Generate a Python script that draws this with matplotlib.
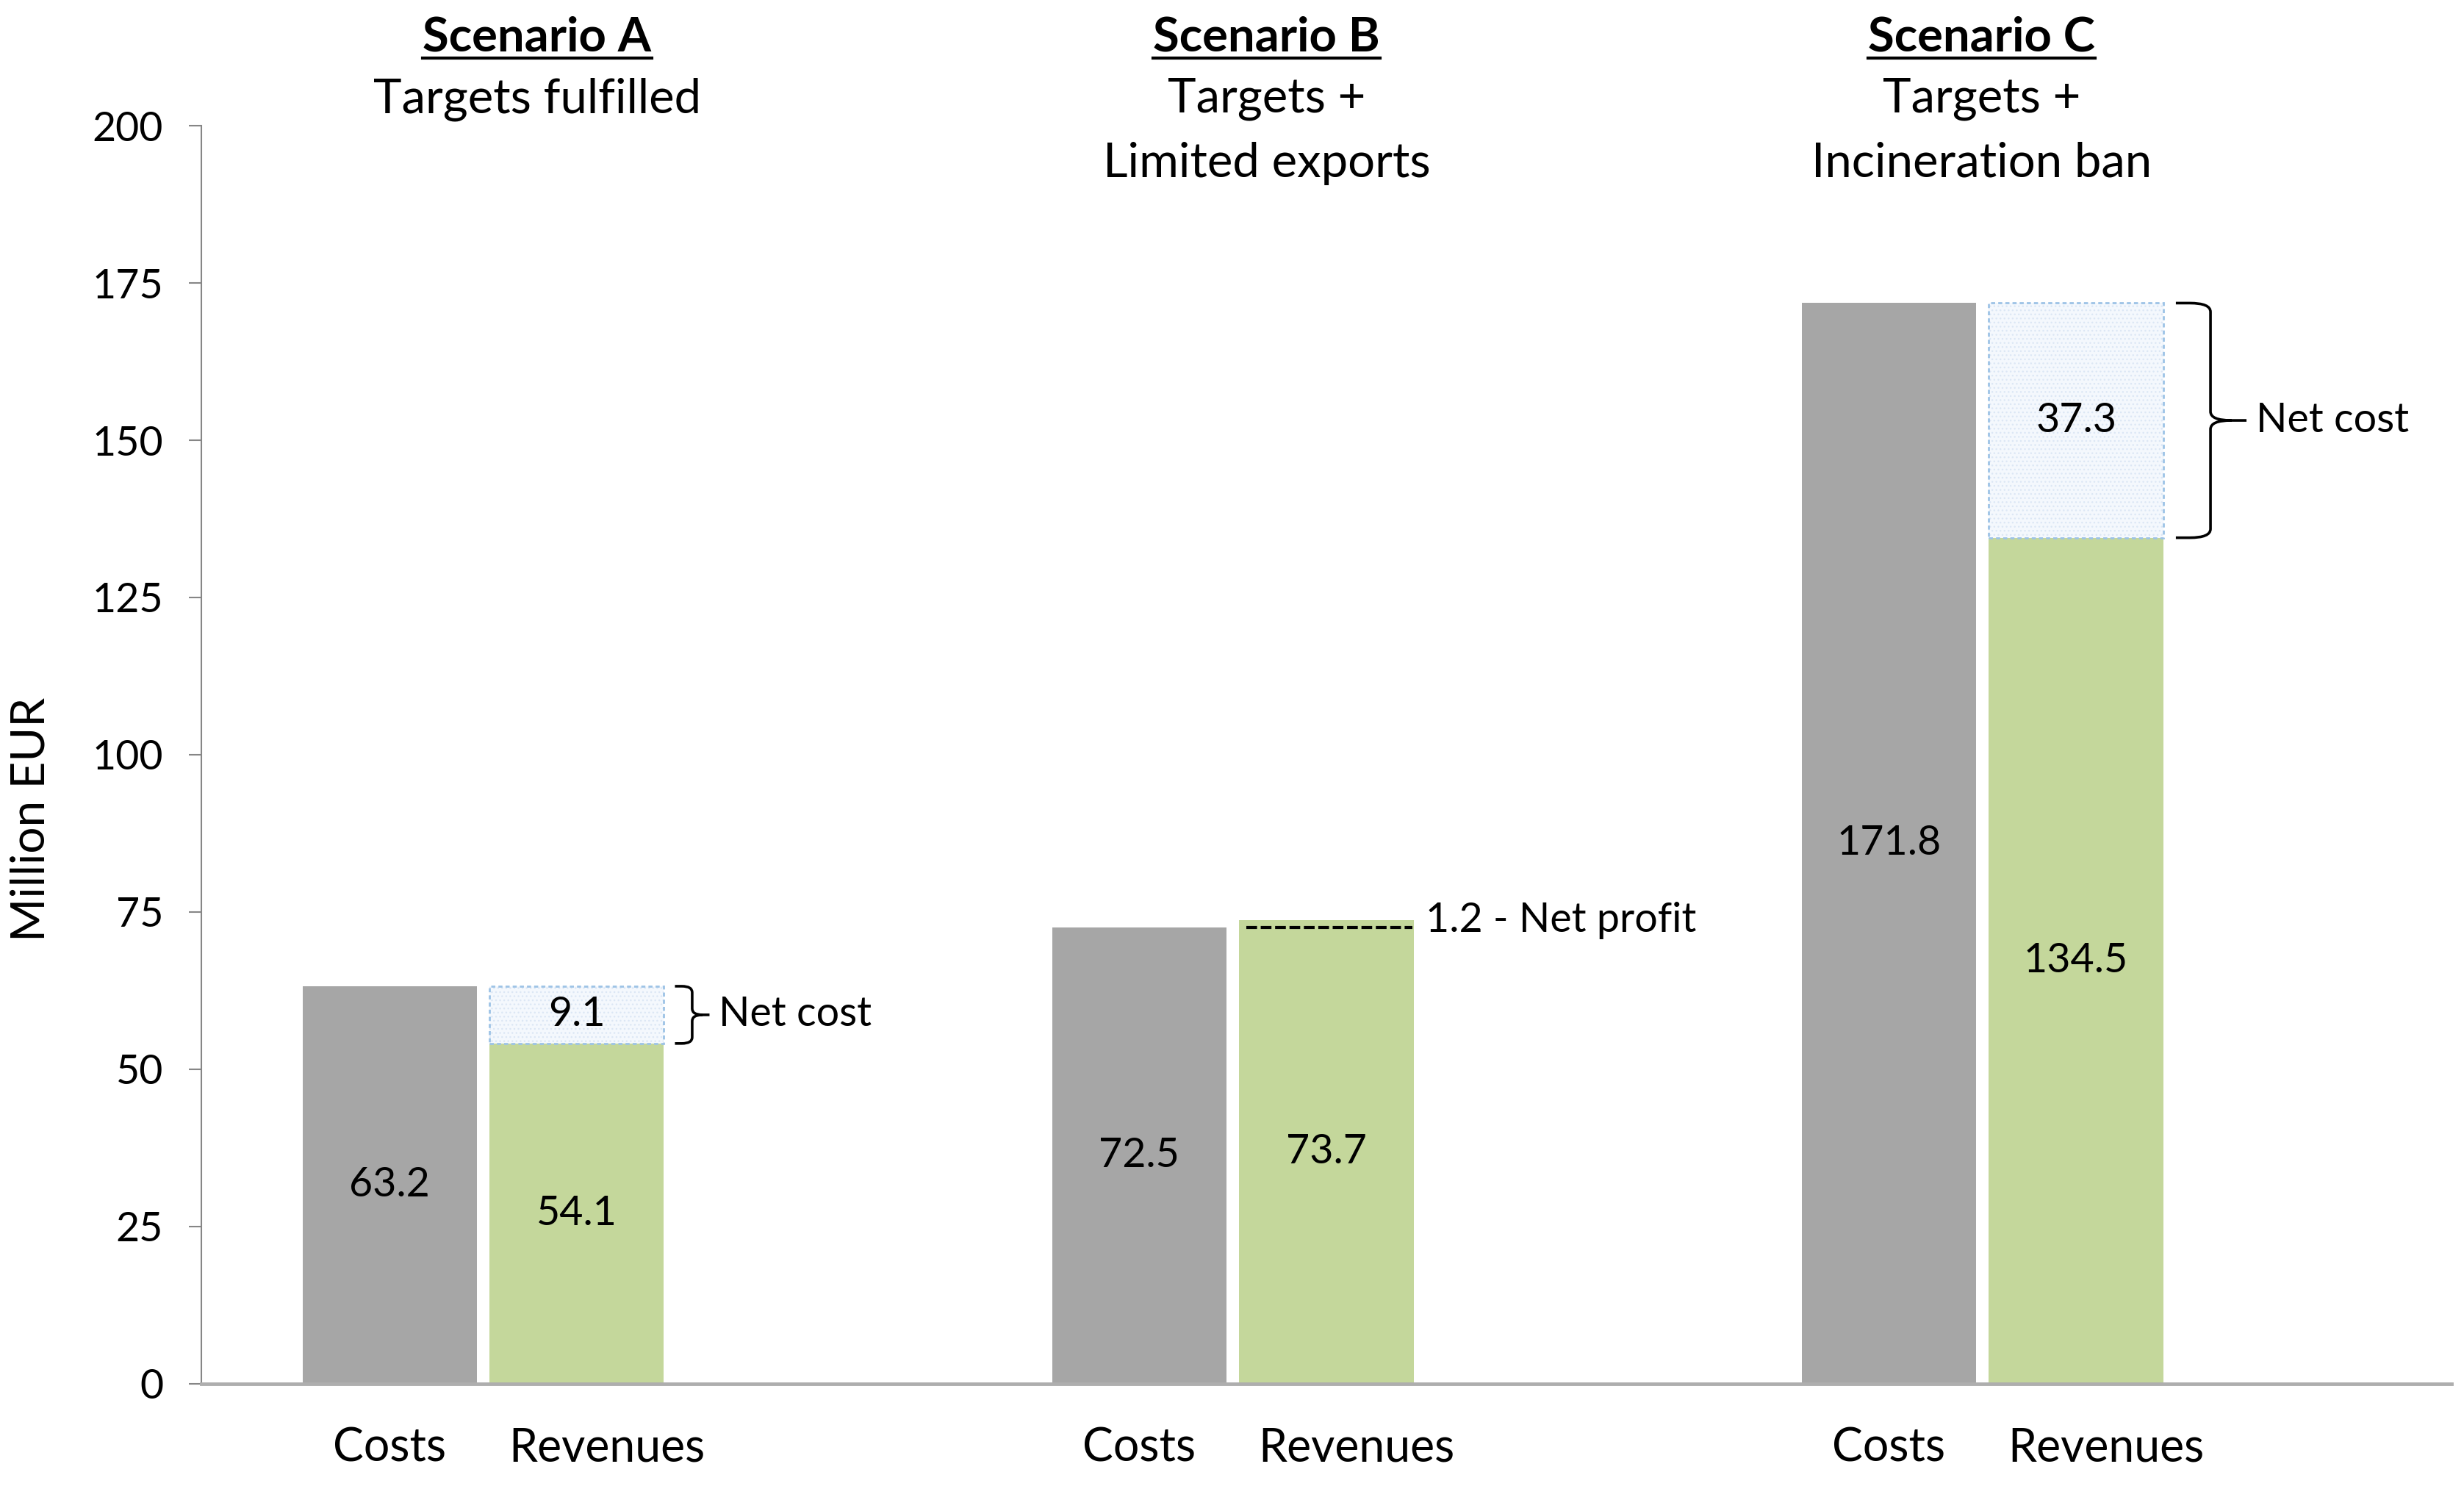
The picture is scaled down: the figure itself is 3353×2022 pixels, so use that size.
import matplotlib
matplotlib.use("Agg")
import matplotlib.pyplot as plt
import matplotlib.transforms as mtransforms
from matplotlib.path import Path
from matplotlib.patches import PathPatch
import numpy as np

# data (million EUR)
scenarios = ["Scenario A", "Scenario B", "Scenario C"]
subtitles = [["Targets fulfilled"], ["Targets +", "Limited exports"], ["Targets +", "Incineration ban"]]
costs = [63.2, 72.5, 171.8]
revenues = [54.1, 73.7, 134.5]
bar_labels = ["Costs", "Revenues"]
y_ticks = [0, 25, 50, 75, 100, 125, 150, 175, 200]

gray = "#A6A6A6"
green = "#C4D79B"
box_edge = "#9DC3E6"
box_face = "#F4F8FD"

plt.rcParams["font.family"] = ["Lato", "DejaVu Sans"]

fig = plt.figure(figsize=(33.53, 20.22), dpi=100)
ax = fig.add_axes([0.0816, 0.0688, 0.9134, 0.8466])

x = np.arange(len(scenarios))
d = 0.2495
w = 0.2327
xc = x - d / 2
xr = x + d / 2

ax.bar(xc, costs, width=w, color=gray, zorder=2)
ax.bar(xr, revenues, width=w, color=green, zorder=2)

net = [c - r for c, r in zip(costs, revenues)]
for i in range(len(scenarios)):
    ax.text(xc[i], costs[i] / 2, f"{costs[i]:.1f}", ha="center", va="center", fontsize=40, zorder=5)
    ax.text(xr[i], revenues[i] / 2, f"{revenues[i]:.1f}", ha="center", va="center", fontsize=40, zorder=5)
    right = xr[i] + w / 2
    if net[i] > 0:
        # net cost box on top of the revenue bar
        ax.bar(xr[i], net[i], bottom=revenues[i], width=w, color=box_face,
               edgecolor="#DCE7F5", hatch="...", linewidth=0, zorder=2)
        ax.bar(xr[i], net[i], bottom=revenues[i], width=w, facecolor="none",
               edgecolor=box_edge, linestyle=(0, (2, 1.5)), linewidth=2, zorder=3)
        ax.text(xr[i], revenues[i] + net[i] / 2, f"{net[i]:.1f}", ha="center", va="center",
                fontsize=40, zorder=5)
        # curly brace
        ytop, ybot = costs[i], revenues[i]
        ym = (ytop + ybot) / 2
        if net[i] > 20:
            x0, xv, xt, tx = right + 0.0168, right + 0.063, right + 0.111, right + 0.124
            ry = 1.4
        else:
            x0, xv, xt, tx = right + 0.0147, right + 0.0377, right + 0.0608, right + 0.0734
            ry = 1.0
        rx = (xv - x0) * 0.6
        verts = [(x0, ytop), (xv - rx, ytop), (xv, ytop), (xv, ytop - ry), (xv, ym + ry),
                 (xv, ym), (xv + rx, ym), (xt, ym),
                 (xv + rx, ym), (xv, ym), (xv, ym - ry), (xv, ybot + ry),
                 (xv, ybot), (xv - rx, ybot), (x0, ybot)]
        codes = [Path.MOVETO, Path.LINETO, Path.CURVE3, Path.CURVE3, Path.LINETO,
                 Path.CURVE3, Path.CURVE3, Path.LINETO,
                 Path.MOVETO, Path.CURVE3, Path.CURVE3, Path.LINETO,
                 Path.CURVE3, Path.CURVE3, Path.LINETO]
        ax.add_patch(PathPatch(Path(verts, codes), facecolor="none", edgecolor="black",
                               linewidth=2.6, clip_on=False, zorder=4))
        ax.text(tx, ym, "Net cost", ha="left", va="center", fontsize=40, clip_on=False)
    else:
        # net profit: dashed line at cost level
        ax.plot([xr[i] - w / 2 + 0.01, right - 0.002], [costs[i], costs[i]], color="black",
                linestyle=(0, (3.5, 1.2)), linewidth=3, zorder=4)
        ax.text(right + 0.016, revenues[i], f"{-net[i]:.1f} - Net profit", ha="left",
                va="center", fontsize=40, clip_on=False)

ax.set_xlim(-0.3763, 2.6258)
ax.set_ylim(0, 200)
ax.set_yticks(y_ticks)
ax.tick_params(axis="y", labelsize=40, length=12, width=1.5, color="#868686", pad=25)

tick_pos = []
tick_lab = []
for i in range(len(scenarios)):
    tick_pos += [xc[i], xr[i] + 0.04]
    tick_lab += bar_labels
ax.set_xticks(tick_pos)
ax.set_xticklabels(tick_lab)
ax.tick_params(axis="x", labelsize=45, length=0, pad=42)

for s in ["top", "right"]:
    ax.spines[s].set_visible(False)
ax.spines["left"].set_color("#868686")
ax.spines["left"].set_linewidth(1.5)
ax.spines["bottom"].set_color("#AEAEAE")
ax.spines["bottom"].set_linewidth(3.5)

fig.text(0.0128, 0.4487, "Million EUR", rotation=90, ha="center", va="center", fontsize=46)

# scenario headers
trans = mtransforms.blended_transform_factory(ax.transData, fig.transFigure)
title_x = [0.072, 1.045, 1.999]
line_y = [0.9746, 0.9333, 0.890]
renderer = fig.canvas.get_renderer()
for i, name in enumerate(scenarios):
    t = ax.text(title_x[i], line_y[0], name, ha="center", va="center", fontsize=47,
                fontweight="bold", transform=trans, clip_on=False)
    for j, sub in enumerate(subtitles[i]):
        ax.text(title_x[i], line_y[j + 1], sub, ha="center", va="center", fontsize=47,
                transform=trans, clip_on=False)
    bb = t.get_window_extent(renderer)
    inv = fig.transFigure.inverted()
    (fx0, fy0), (fx1, fy1) = inv.transform([(bb.x0, bb.y0), (bb.x1, bb.y0)])
    fig.add_artist(plt.Line2D([fx0, fx1], [fy0 + 0.001, fy0 + 0.001], color="black",
                              linewidth=3, transform=fig.transFigure))

fig.savefig("out.png", dpi=100)
